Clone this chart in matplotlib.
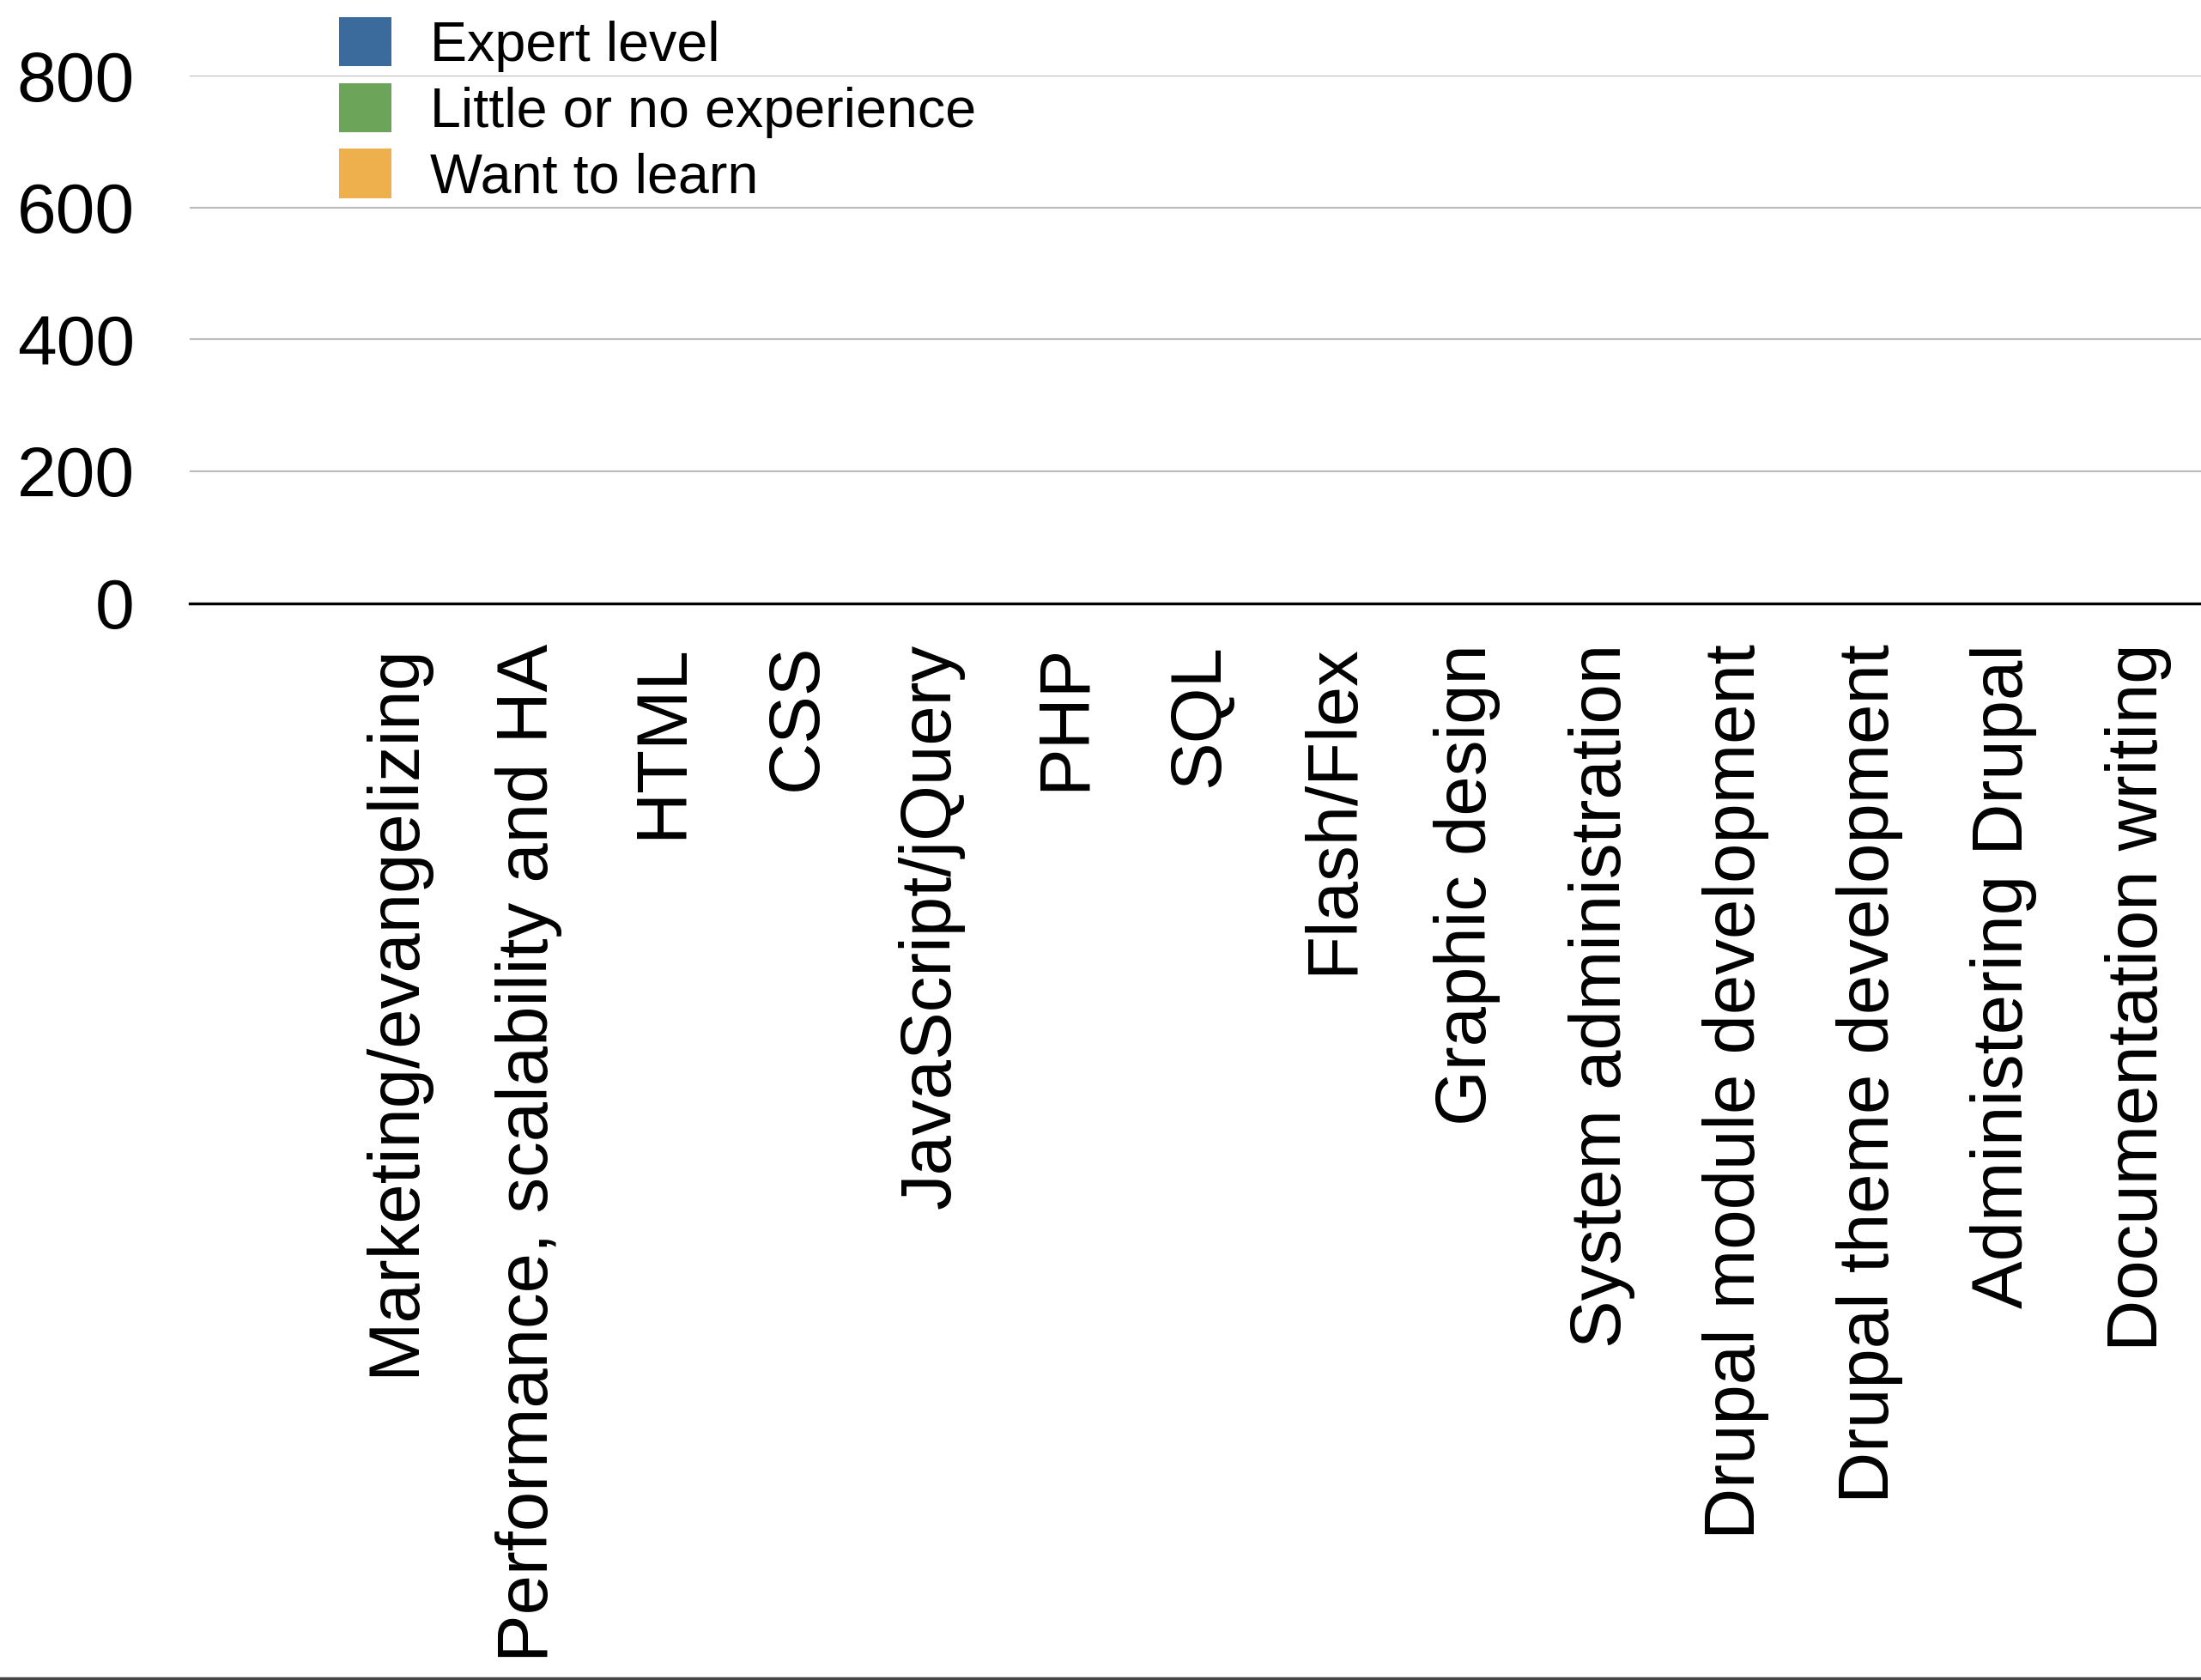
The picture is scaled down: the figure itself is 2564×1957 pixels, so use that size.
import matplotlib
matplotlib.use("Agg")
import matplotlib.pyplot as plt
from matplotlib.lines import Line2D
import numpy as np

plt.rcParams['font.family'] = ['Liberation Sans', 'DejaVu Sans']

# skill categories, left to right
categories = ["Marketing/evangelizing", "Performance, scalability and HA", "HTML", "CSS",
              "JavaScript/jQuery", "PHP", "SQL", "Flash/Flex", "Graphic design",
              "System administration", "Drupal module development", "Drupal theme development",
              "Administering Drupal", "Documentation writing"]

# no bars are visible in the chart -> every value reads as 0
expert = [0, 0, 0, 0, 0, 0, 0, 0, 0, 0, 0, 0, 0, 0]
little = [0, 0, 0, 0, 0, 0, 0, 0, 0, 0, 0, 0, 0, 0]
want = [0, 0, 0, 0, 0, 0, 0, 0, 0, 0, 0, 0, 0, 0]

series_names = ["Expert level", "Little or no experience", "Want to learn"]
colors = ["#3b6a9c", "#6ca55a", "#edb04c"]
y_ticks = [0, 200, 400, 600, 800]

fig = plt.figure(figsize=(25.64, 19.57), dpi=100)
ax = fig.add_axes([0.0861, 0.641, 0.9139, 0.314])

x = np.arange(len(categories))
w = 0.25
for k, (vals, name, c) in enumerate(zip([expert, little, want], series_names, colors)):
    ax.bar(x + (k - 1) * w, vals, width=w, color=c, label=name, zorder=3)

ax.set_xlim(-1.53, len(categories) - 0.53)
ax.set_ylim(0, 800)
ax.set_yticks(y_ticks)
ax.set_yticklabels([str(v) for v in y_ticks])
ax.set_xticks(x)
ax.set_xticklabels(categories, rotation=90, va='top', ha='center')

ax.tick_params(axis='y', length=0, pad=46, labelsize=59)
ax.tick_params(axis='x', length=0, pad=34, labelsize=60)

for s in ['top', 'right', 'left']:
    ax.spines[s].set_visible(False)
ax.spines['bottom'].set_linewidth(2.4)
ax.spines['bottom'].set_color('black')
ax.grid(axis='y', color='#bdbdbd', linewidth=1.6, zorder=0)
ax.set_axisbelow(True)

leg = fig.legend(loc='upper left', bbox_to_anchor=(0.154, 0.990), bbox_transform=fig.transFigure,
                 frameon=False, fontsize=46.5, handlelength=0.95, handleheight=1.0,
                 handletextpad=0.7, labelspacing=0.2, borderpad=0, borderaxespad=0)

# thin dark rule along the bottom edge of the picture
fig.add_artist(Line2D([0, 1], [0.0012, 0.0012], transform=fig.transFigure, color='#444444', linewidth=2.5))

fig.savefig("out.png", dpi=100)
